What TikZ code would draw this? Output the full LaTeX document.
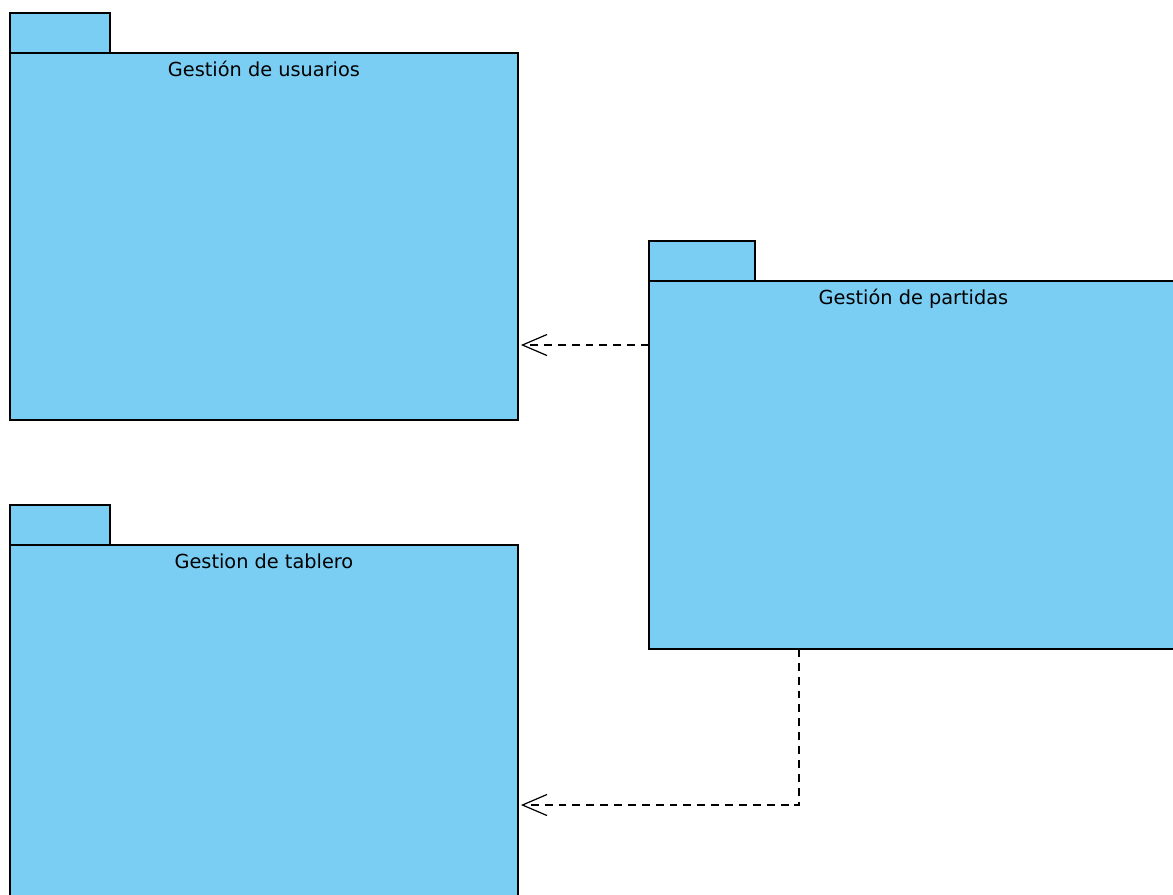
\documentclass[tikz,border=0pt]{standalone}
\usepackage{fontspec}
\setmainfont{DejaVu Sans}
\usetikzlibrary{arrows.meta, positioning, calc}
\definecolor{pkgblue}{HTML}{7ACEF4}

\begin{document}
\begin{tikzpicture}[x=0.02cm, y=-0.02cm,
    pkgbody/.style={draw, fill=pkgblue, line width=0.8pt, inner sep=0pt, outer sep=0pt,
        anchor=north west, minimum width=10.16cm, minimum height=7.34cm},
    pkgtab/.style={draw, fill=pkgblue, line width=0.8pt, inner sep=0pt, outer sep=0pt,
        anchor=south west, minimum width=2cm, minimum height=0.8cm},
    pkgtitle/.style={font=\fontsize{11}{13}\selectfont, inner sep=0pt, anchor=base},
    dep/.style={dashed, dash pattern=on 4.5pt off 3.4pt, line width=0.7pt,
        -{Straight Barb[length=14pt, width=12pt, line width=0.7pt]}}]

    \useasboundingbox (0,0) rectangle (1173,894);
    \clip (0,0) rectangle (1173,894);

    % Packages
    \node[pkgbody] (usuarios) at (10,53) {};
    \node[pkgtab] (usuariostab) at (usuarios.north west) {};
    \node[pkgtitle, below=0.46cm of usuarios.north, anchor=base] (usuariostitle) {Gestión de usuarios};

    \node[pkgbody] (tablero) at (10,545) {};
    \node[pkgtab] (tablerotab) at (tablero.north west) {};
    \node[pkgtitle, below=0.46cm of tablero.north, anchor=base] (tablerotitle) {Gestion de tablero};

    \node[pkgbody, minimum width=10.58cm, minimum height=7.36cm] (partidas) at (649,281) {};
    \node[pkgtab, minimum width=2.12cm] (partidastab) at (partidas.north west) {};
    \node[pkgtitle, below=0.46cm of partidas.north, anchor=base] (partidastitle) {Gestión de partidas};

    % Dependencies
    \coordinate (bend1) at (0,345);
    \coordinate (bend2) at (799,805);
    \draw[dep] (partidas.west |- bend1) -- ([xshift=0.06cm]usuarios.east |- bend1);
    \draw[dep] (partidas.south -| bend2) |- ([xshift=0.06cm]tablero.east |- bend2);

\end{tikzpicture}
\end{document}
